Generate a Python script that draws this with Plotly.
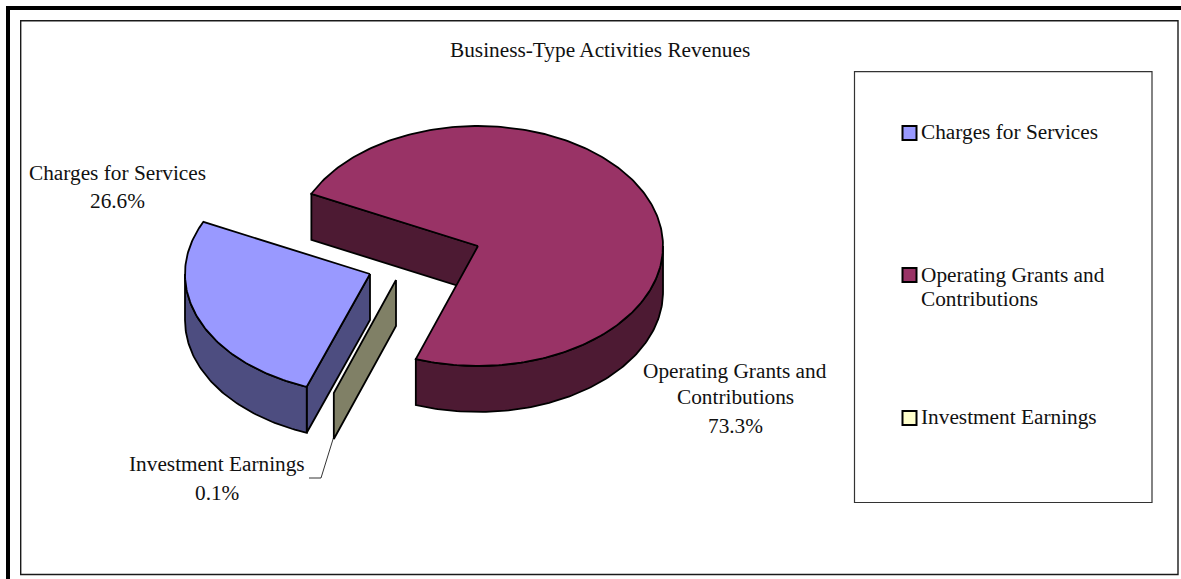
import math
import plotly.graph_objects as go

# ---- data ----
title = "Business-Type Activities Revenues"
categories = ["Charges for Services", "Operating Grants and Contributions", "Investment Earnings"]
shares = [26.6, 73.3, 0.1]
top_colors = ["#9999FF", "#993366", "#FFFFCC"]
side_colors = ["#4D4D80", "#4D1A33", "#808066"]
legend_lines = [["Charges for Services"], ["Operating Grants and", "Contributions"], ["Investment Earnings"]]
label_lines = [["Charges for Services"], ["Operating Grants and", "Contributions"], ["Investment Earnings"]]

# ---- geometry of the drawing ----
W, H = 1181, 579
RX, RY, DEPTH = 185, 120, 46
FIRST_ANGLE = 200.0
APEX = [(370, 274), (478, 246), (396, 280)]
LABEL_POS = [(117, [173, 201]), (735, [371, 397, 426]), (217, [464, 493])]
LEGEND_Y = [(132,), (275, 299), (417,)]
SWATCH_Y = [133, 275, 418]
FONT = "Liberation Serif"
FS = 21.3

fig = go.Figure()


def pt(apex, a, dz=0):
    r = math.radians(a)
    return apex[0] + RX * math.sin(r), apex[1] - RY * math.cos(r) + dz


def arc(apex, a0, a1, dz=0, step=1.0):
    n = max(2, int(abs(a1 - a0) / step) + 1)
    return [pt(apex, a0 + (a1 - a0) * i / (n - 1), dz) for i in range(n)]


def poly(points, fill):
    xs = [p[0] for p in points] + [points[0][0]]
    ys = [p[1] for p in points] + [points[0][1]]
    fig.add_trace(go.Scatter(x=xs, y=ys, mode="lines", fill="toself", fillcolor=fill,
                             line=dict(color="#000000", width=1.8), hoverinfo="skip",
                             showlegend=False))


def cut_face(apex, a, color):
    e = pt(apex, a)
    poly([apex, e, (e[0], e[1] + DEPTH), (apex[0], apex[1] + DEPTH)], color)


# slice angles follow from the shares
spans = [s / sum(shares) * 360 for s in shares]
starts = []
a = FIRST_ANGLE
for s in spans:
    starts.append(a)
    a += s

for i in [1, 0, 2]:
    apex = APEX[i]
    a0, a1 = starts[i], starts[i] + spans[i]
    cut_face(apex, a0, side_colors[i])
    if i == 1:
        rim_end = a1 % 360
        poly(arc(apex, 90, rim_end) + arc(apex, rim_end, 90, DEPTH), side_colors[i])
    elif i == 0:
        poly(arc(apex, a0, 270) + arc(apex, 270, a0, DEPTH), side_colors[i])
    if i != 2:
        poly([apex] + arc(apex, a0, a1), top_colors[i])

shapes = [
    dict(type="rect", x0=6, x1=10, y0=6, y1=H + 5, fillcolor="#000", line_width=0, layer="below"),
    dict(type="rect", x0=6, x1=W + 5, y0=6, y1=10, fillcolor="#000", line_width=0, layer="below"),
    dict(type="rect", x0=20.7, x1=1178, y0=20.7, y1=574.5, line=dict(color="#1a1a1a", width=1.4), layer="below"),
    dict(type="rect", x0=854.5, x1=1152, y0=71.7, y1=502.5, line=dict(color="#333333", width=1.2), layer="below"),
    # leader line of the smallest slice
    dict(type="path", path="M 309 478 L 321 478 L 334 436", line=dict(color="#000", width=0.8)),
]

annotations = [dict(x=600, y=50, text=title, showarrow=False, xanchor="center", yanchor="middle")]

for i, name in enumerate(categories):
    cx, ys = LABEL_POS[i]
    for line, y in zip(label_lines[i] + [f"{shares[i]:.1f}%"], ys):
        annotations.append(dict(x=cx, y=y, text=line, showarrow=False, xanchor="center", yanchor="middle"))
    for line, y in zip(legend_lines[i], LEGEND_Y[i]):
        annotations.append(dict(x=919, y=y, text=line, showarrow=False, xanchor="left", yanchor="middle"))
    sy = SWATCH_Y[i]
    shapes.append(dict(type="rect", x0=902.5, x1=916.5, y0=sy - 7, y1=sy + 7,
                       fillcolor=top_colors[i], line=dict(color="#000", width=2)))

fig.update_layout(
    width=W, height=H,
    margin=dict(l=0, r=0, t=0, b=0),
    paper_bgcolor="#FFFFFF", plot_bgcolor="#FFFFFF",
    showlegend=False,
    font=dict(family=FONT, size=FS, color="#111111"),
    xaxis=dict(range=[0, W], visible=False, fixedrange=True),
    yaxis=dict(range=[H, 0], visible=False, fixedrange=True),
    shapes=shapes, annotations=annotations,
)
fig.write_html("out.html", post_script="document.body.style.margin='0';",
               config=dict(displayModeBar=False))
